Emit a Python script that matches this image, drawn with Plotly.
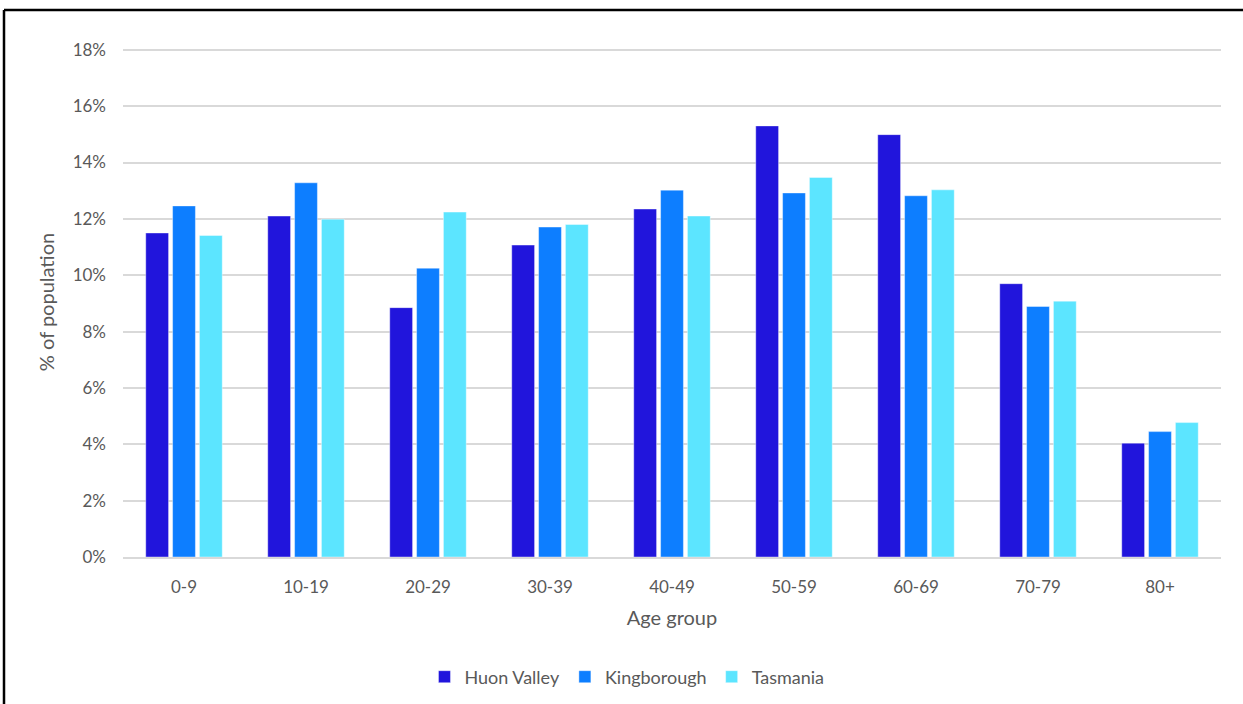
import plotly.graph_objects as go

age_groups = ["0-9", "10-19", "20-29", "30-39", "40-49", "50-59", "60-69", "70-79", "80+"]
huon_valley = [11.5, 12.1, 8.85, 11.07, 12.35, 15.3, 14.99, 9.7, 4.04]
kingborough = [12.46, 13.28, 10.25, 11.71, 13.02, 12.92, 12.82, 8.89, 4.45]
tasmania = [11.41, 11.99, 12.24, 11.8, 12.1, 13.47, 13.03, 9.08, 4.77]
y_ticks = [0, 2, 4, 6, 8, 10, 12, 14, 16, 18]
y_tick_labels = [f"{v}%" for v in y_ticks]

series = [
    ("Huon Valley", huon_valley, "#2115DC"),
    ("Kingborough", kingborough, "#0D7EFF"),
    ("Tasmania", tasmania, "#5CE5FF"),
]

W, H = 1243, 704
Y_MAX = 18.1
ML, MR, MB = 123, 22, 147
MT = round(H - MB - 507 * Y_MAX / 18)
pw, ph = W - ML - MR, H - MT - MB

fig = go.Figure()
for name, vals, color in series:
    fig.add_trace(go.Bar(
        x=age_groups, y=vals, name=name,
        marker=dict(color=color, line=dict(color="rgba(255,255,255,0.5)", width=0.8)),
    ))

font = "Lato, 'Open Sans', sans-serif"
grey = "#595959"

# frame lines (top and left edges)
def px_x(p):
    return (p - ML) / pw

def px_y(p):
    return (H - MB - p) / ph

fig.add_shape(type="line", xref="paper", yref="paper",
              x0=px_x(4), x1=px_x(1260), y0=px_y(10), y1=px_y(10),
              line=dict(color="black", width=2.5))
fig.add_shape(type="line", xref="paper", yref="paper",
              x0=px_x(4), x1=px_x(4), y0=px_y(10), y1=px_y(720),
              line=dict(color="black", width=2.5))

fig.update_layout(
    width=W, height=H,
    margin=dict(l=ML, r=MR, t=MT, b=MB, autoexpand=False),
    paper_bgcolor="white", plot_bgcolor="white",
    barmode="group", bargap=0.34, bargroupgap=0.15,
    font=dict(family=font, color=grey, size=16),
    legend=dict(orientation="h", x=0.459, xanchor="center", y=px_y(677), yanchor="middle",
                font=dict(size=18, color=grey), itemwidth=30, traceorder="normal"),
    showlegend=True,
)
fig.update_yaxes(
    range=[0, Y_MAX], tickvals=y_ticks, ticktext=y_tick_labels,
    showgrid=True, gridcolor="#D9D9D9", gridwidth=1.5, automargin=False,
    zeroline=False, showline=False, ticks="", ticklabelstandoff=16,
    tickfont=dict(size=17, color=grey),
    title=dict(text="% of population", font=dict(size=20, color=grey), standoff=12),
)
fig.update_xaxes(
    showline=True, linecolor="#D9D9D9", linewidth=1.5, automargin=False,
    ticks="", ticklabelstandoff=14, tickfont=dict(size=17, color=grey),
    title=dict(text="Age group", font=dict(size=20, color=grey), standoff=15),
)

fig.write_html("out.html")
